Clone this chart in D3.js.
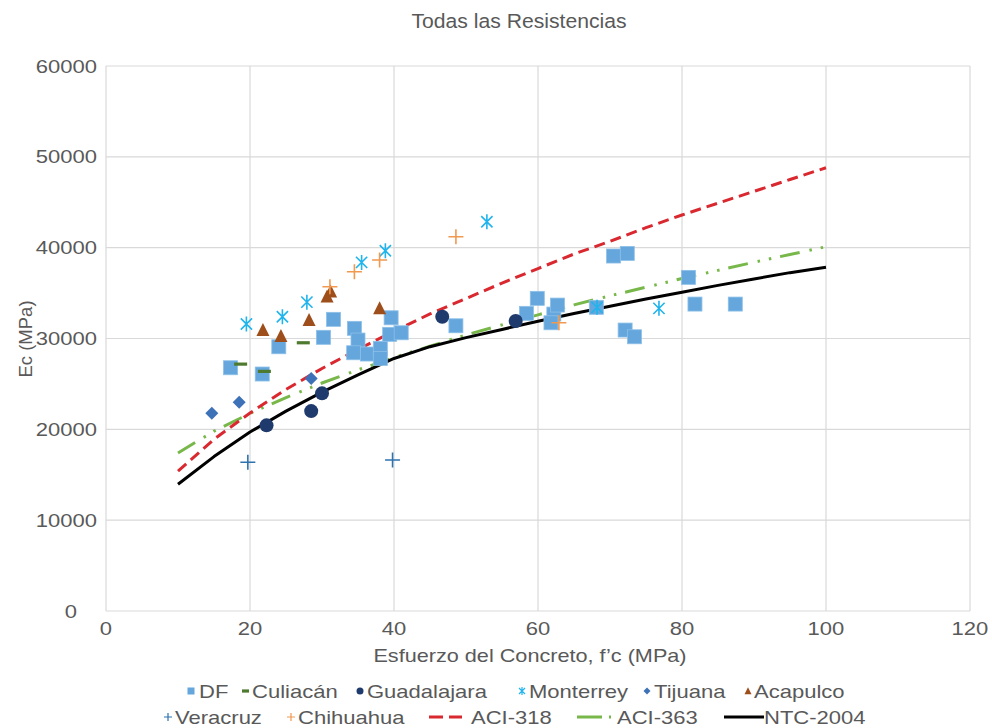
<!DOCTYPE html>
<html><head><meta charset="utf-8">
<script src="https://cdn.jsdelivr.net/npm/d3@7"></script>
<style>
html,body{margin:0;padding:0;background:#fff;}
text{font-family:"Liberation Sans",Arial,sans-serif;fill:#595959;}
</style></head>
<body><svg id="c" width="992" height="728"></svg>
<script>
// ---- data ----
const title = "Todas las Resistencias";
const xTitle = "Esfuerzo del Concreto, f’c (MPa)";
const yTitle = "Ec (MPa)";
const xTicks = [0, 20, 40, 60, 80, 100, 120];
const yTicks = [0, 10000, 20000, 30000, 40000, 50000, 60000];

const dfX = [17.3, 21.7, 24.0, 30.2, 31.6, 34.5, 35.0, 34.4, 36.3, 38.1, 38.1, 39.6, 39.4, 41.0, 48.6, 58.4, 59.9, 62.2, 62.7, 61.8, 68.1, 70.5, 72.4, 72.1, 73.4, 80.9, 81.8, 87.4];
const dfY = [26780, 26090, 29090, 30130, 32110, 31120, 29830, 28430, 28290, 28920, 27810, 32280, 30460, 30630, 31400, 32770, 34420, 32690, 33680, 31730, 33430, 39080, 39370, 30930, 30190, 36730, 33790, 33790];
const culiacanX = [18.7, 22.0, 27.4];
const culiacanY = [27180, 26380, 29530];
const guadalajaraX = [22.3, 28.5, 30.0, 46.7, 56.9];
const guadalajaraY = [20440, 22010, 23960, 32390, 31920];
const monterreyX = [19.5, 24.5, 27.9, 35.5, 38.8, 52.9, 68.2, 76.8];
const monterreyY = [31590, 32390, 34000, 38380, 39660, 42850, 33430, 33320];
const tijuanaX = [14.7, 18.5, 28.5];
const tijuanaY = [21760, 22970, 25610];
const acapulcoX = [21.8, 24.3, 28.2, 30.7, 31.2, 38.0];
const acapulcoY = [30930, 30270, 32030, 34600, 35150, 33320];
const veracruzX = [19.7, 39.8];
const veracruzY = [16370, 16620];
const chihuahuaX = [31.1, 34.5, 38.0, 48.6, 62.9];
const chihuahuaY = [35700, 37350, 38640, 41200, 31730];

const curveFc = [10, 15, 20, 25, 30, 35, 40, 45, 50, 55, 60, 65, 70, 75, 80, 85, 90, 95, 100];
const aci318 = [15400, 18900, 21800, 24400, 26700, 28800, 30800, 32700, 34400, 36100, 37700, 39300, 40700, 42200, 43600, 44900, 46200, 47500, 48800];
const aci363 = [17400, 19800, 21750, 23500, 25100, 26550, 27900, 29150, 30400, 31500, 32600, 33700, 34700, 35650, 36600, 37500, 38400, 39250, 40100];
const ntc2004 = [13950, 17000, 19700, 22000, 24100, 26000, 27800, 29100, 30100, 31000, 31900, 32750, 33550, 34350, 35100, 35850, 36550, 37250, 37850];

// ---- layout ----
const svg = d3.select("#c");
const L = 106, R = 970, T = 66, B = 611;
const x = d3.scaleLinear().domain([0, 120]).range([L, R]);
const y = d3.scaleLinear().domain([0, 60000]).range([B, T]);
const STRETCH = 1.2;
function stretch(sel, k) {
  sel.each(function () {
    const len = this.getComputedTextLength();
    d3.select(this).attr("textLength", len * (k || STRETCH)).attr("lengthAdjust", "spacingAndGlyphs");
  });
}
const gridC = "#d9d9d9";

// grid
svg.append("g").selectAll("line").data(yTicks).join("line")
  .attr("x1", L).attr("x2", R).attr("y1", d => y(d)).attr("y2", d => y(d))
  .attr("stroke", gridC).attr("stroke-width", 1.2);
svg.append("g").selectAll("line").data(xTicks).join("line")
  .attr("y1", T).attr("y2", B).attr("x1", d => x(d)).attr("x2", d => x(d))
  .attr("stroke", gridC).attr("stroke-width", 1.2);

// tick labels
const yt = svg.append("g").selectAll("text").data(yTicks).join("text")
  .attr("x", d => d === 0 ? 77 : 97).attr("y", d => y(d) + 6.5)
  .attr("text-anchor", "end").attr("font-size", 18.5).text(d => String(d));
stretch(yt, 1.19);
const xt = svg.append("g").selectAll("text").data(xTicks).join("text")
  .attr("x", d => x(d)).attr("y", 635)
  .attr("text-anchor", "middle").attr("font-size", 18.5).text(d => String(d));
stretch(xt, 1.19);

// titles
const tt = svg.append("text").attr("x", 519).attr("y", 28).attr("text-anchor", "middle")
  .attr("font-size", 20.5).text(title);
tt.attr("textLength", 215).attr("lengthAdjust", "spacingAndGlyphs");
const xtl = svg.append("text").attr("x", 530).attr("y", 662).attr("text-anchor", "middle")
  .attr("font-size", 18.5).text(xTitle);
stretch(xtl, 1.17);
svg.append("text").attr("transform", "translate(32,339) rotate(-90)").attr("text-anchor", "middle")
  .attr("font-size", 18.5).text(yTitle);

// curves
const line = d3.line().x(d => x(d[0])).y(d => y(d[1]));
const zip = (a, b) => a.map((v, i) => [v, b[i]]);
const styles = {
  aci318: { color: "#d9282f", dash: "11,6", w: 3 },
  aci363: { color: "#78b84a", dash: "20,10,2.5,9,2.5,9", w: 3 },
  ntc: { color: "#000000", dash: null, w: 3 }
};
svg.append("path").datum(zip(curveFc, aci363)).attr("d", line).attr("fill", "none")
  .attr("stroke", styles.aci363.color).attr("stroke-width", styles.aci363.w).attr("stroke-dasharray", styles.aci363.dash);
svg.append("path").datum(zip(curveFc, aci318)).attr("d", line).attr("fill", "none")
  .attr("stroke", styles.aci318.color).attr("stroke-width", styles.aci318.w).attr("stroke-dasharray", styles.aci318.dash);
svg.append("path").datum(zip(curveFc, ntc2004)).attr("d", line).attr("fill", "none")
  .attr("stroke", styles.ntc.color).attr("stroke-width", styles.ntc.w).attr("stroke-linejoin", "round");

// marker drawers
const M = {
  square: (g, s, c) => g.append("rect").attr("x", -s / 2).attr("y", -s / 2).attr("width", s).attr("height", s).attr("fill", c).attr("stroke", "#8dc0e8").attr("stroke-width", 0.8),
  dash: (g, s, c) => g.append("rect").attr("x", -s / 2).attr("y", -1.6).attr("width", s).attr("height", 3.2).attr("fill", c),
  circle: (g, s, c) => g.append("circle").attr("r", s / 2).attr("fill", c),
  star: (g, s, c) => {
    const h = s / 2, d = h * 0.75;
    g.append("path").attr("d", `M0,${-h}V${h}M${-d},${-d}L${d},${d}M${-d},${d}L${d},${-d}`)
      .attr("stroke", c).attr("stroke-width", 1.6).attr("fill", "none");
  },
  diamond: (g, s, c) => g.append("path").attr("d", `M0,${-s / 2}L${s / 2},0L0,${s / 2}L${-s / 2},0Z`).attr("fill", c),
  triangle: (g, s, c) => g.append("path").attr("d", `M0,${-s * 0.55}L${s / 2},${s * 0.45}L${-s / 2},${s * 0.45}Z`).attr("fill", c),
  plus: (g, s, c) => g.append("path").attr("d", `M0,${-s / 2}V${s / 2}M${-s / 2},0H${s / 2}`).attr("stroke", c).attr("stroke-width", 1.6).attr("fill", "none")
};

const series = [
  { name: "DF", xs: dfX, ys: dfY, m: "square", c: "#65a6dd", s: 14, ls: 7 },
  { name: "Culiacán", xs: culiacanX, ys: culiacanY, m: "dash", c: "#4e7a30", s: 13, ls: 7 },
  { name: "Guadalajara", xs: guadalajaraX, ys: guadalajaraY, m: "circle", c: "#1f3a6d", s: 14, ls: 7 },
  { name: "Monterrey", xs: monterreyX, ys: monterreyY, m: "star", c: "#20b4ec", s: 15, ls: 8 },
  { name: "Tijuana", xs: tijuanaX, ys: tijuanaY, m: "diamond", c: "#3d72b8", s: 13, ls: 7 },
  { name: "Acapulco", xs: acapulcoX, ys: acapulcoY, m: "triangle", c: "#9d4e1b", s: 13, ls: 7 },
  { name: "Veracruz", xs: veracruzX, ys: veracruzY, m: "plus", c: "#2f72b0", s: 15, ls: 8 },
  { name: "Chihuahua", xs: chihuahuaX, ys: chihuahuaY, m: "plus", c: "#f0994f", s: 15, ls: 8 }
];
series.forEach(sr => {
  const g = svg.append("g");
  sr.xs.forEach((v, i) => {
    const p = g.append("g").attr("transform", `translate(${x(v)},${y(sr.ys[i])})`);
    M[sr.m](p, sr.s, sr.c);
  });
});

// legend
const legendItems = [
  { k: "DF", mx: 191, tx: 199, row: 0 },
  { k: "Culiacán", mx: 245.5, tx: 252, row: 0 },
  { k: "Guadalajara", mx: 360, tx: 367, row: 0 },
  { k: "Monterrey", mx: 522, tx: 529, row: 0 },
  { k: "Tijuana", mx: 647, tx: 654, row: 0 },
  { k: "Acapulco", mx: 748, tx: 754, row: 0 },
  { k: "Veracruz", mx: 168, tx: 175, row: 1 },
  { k: "Chihuahua", mx: 291, tx: 298, row: 1 },
  { k: "ACI-318", line: "aci318", lx: [429, 462], tx: 471, row: 1 },
  { k: "ACI-363", line: "aci363", lx: [577, 611], tx: 617, row: 1 },
  { k: "NTC-2004", line: "ntc", lx: [724, 764], tx: 764, row: 1 }
];
const rowY = [691, 717];
const lg = svg.append("g");
legendItems.forEach(it => {
  const cy = rowY[it.row];
  if (it.line) {
    const st = styles[it.line];
    let dash = st.dash;
    if (it.line === "aci318") dash = "14,6";
    if (it.line === "aci363") dash = "25,7,2.5,100";
    lg.append("line").attr("x1", it.lx[0]).attr("x2", it.lx[1]).attr("y1", cy).attr("y2", cy)
      .attr("stroke", st.color).attr("stroke-width", 3).attr("stroke-dasharray", dash);
  } else {
    const sr = series.find(s => s.name === it.k);
    const p = lg.append("g").attr("transform", `translate(${it.mx},${cy})`);
    M[sr.m](p, sr.ls, sr.c);
    if (sr.m === "star" || sr.m === "plus") p.selectAll("path").attr("stroke-width", 1.2);
    if (sr.m === "square") p.select("rect").attr("stroke", "none");
  }
  const t = lg.append("text").attr("x", it.tx).attr("y", cy + 6.5).attr("font-size", 18.5).text(it.k);
  stretch(t, 1.19);
});
</script></body></html>
